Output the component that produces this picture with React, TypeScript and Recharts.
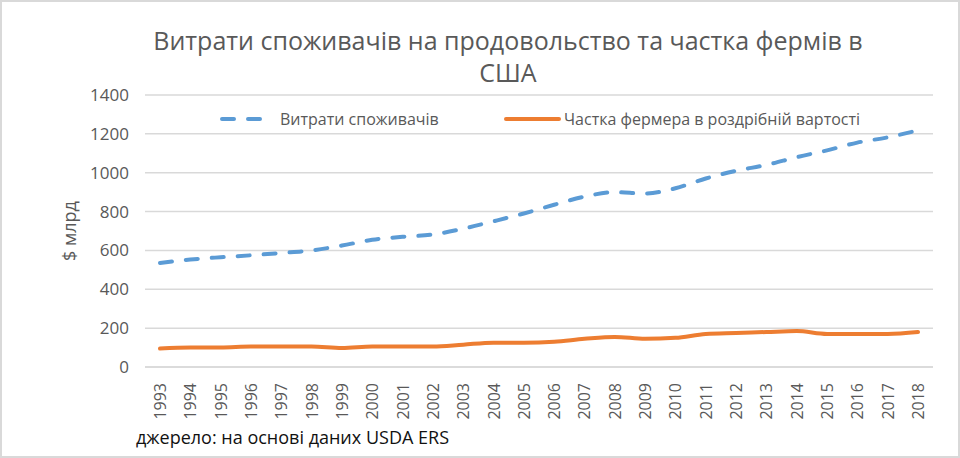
import React from 'react';
import { LineChart, Line, XAxis, YAxis, CartesianGrid } from 'recharts';

const years = [
    '1993', '1994', '1995', '1996', '1997', '1998', '1999', '2000', '2001', '2002', '2003', '2004', '2005',
    '2006', '2007', '2008', '2009', '2010', '2011', '2012', '2013', '2014', '2015', '2016', '2017', '2018',
];
const consumerSpending = [
    535, 553, 565, 575, 587, 600, 625, 655, 670, 682, 712, 750, 790,
    835, 877, 900, 893, 920, 970, 1010, 1040, 1080, 1115, 1155, 1182, 1218,
];
const farmShare = [
    95, 100, 100, 105, 105, 105, 98, 105, 105, 105, 115, 125, 125,
    130, 145, 155, 145, 150, 170, 175, 180, 185, 170, 170, 170, 180,
];
const yTicks = [0, 200, 400, 600, 800, 1000, 1200, 1400];

const SERIES_SPEND = 'Витрати споживачів';
const SERIES_FARM = 'Частка фермера в роздрібній вартості';

const chartData = years.map((year, i) => ({
    year,
    spend: consumerSpending[i],
    farm: farmShare[i],
}));

const FONT = '"Open Sans", "Noto Sans", sans-serif';
const TEXT = '#595959';

function YearTick(props: any) {
    const { x, y, payload } = props;
    return (
        <text
            x={x}
            y={y}
            transform={`rotate(-90, ${x}, ${y})`}
            dy={6}
            dx={-8}
            textAnchor="end"
            fill={TEXT}
            fontSize={16}
            fontFamily={FONT}
        >
            {payload.value}
        </text>
    );
}

// legend sits inside the plot, between the top two gridlines
function LegendOverlay() {
    return (
        <svg width={960} height={24} style={{ position: 'absolute', left: 0, top: 105 }}>
            <line x1={220} y1={12} x2={272} y2={12} stroke="#5B9BD5" strokeWidth={4} strokeDasharray="12 14" strokeLinecap="round" />
            <text x={278} y={18} fill={TEXT} fontSize={16} fontFamily={FONT}>{SERIES_SPEND}</text>
            <line x1={504} y1={12} x2={557} y2={12} stroke="#ED7D31" strokeWidth={4} strokeLinecap="round" />
            <text x={562} y={18} fill={TEXT} fontSize={16} fontFamily={FONT}>{SERIES_FARM}</text>
        </svg>
    );
}

export default function App() {
    return (
        <div
            style={{
                position: 'absolute',
                left: 0,
                top: 0,
                width: 960,
                height: 458,
                background: '#fff',
                boxSizing: 'border-box',
                border: '2px solid #D9D9D9',
                fontFamily: FONT,
            }}
        >
            <div style={{ position: 'absolute', left: 0, top: 0, width: 960, textAlign: 'center', color: TEXT, fontSize: 25, lineHeight: '32px', paddingTop: 22, paddingLeft: 52, boxSizing: 'border-box' }}>
                Витрати споживачів на продовольство та частка фермів в
                <br />
                США
            </div>
            <div style={{ position: 'absolute', left: -2, top: -2 }}>
                <LineChart width={960} height={458} data={chartData} margin={{ top: 95, right: 27, bottom: 0, left: 0 }}>
                    <CartesianGrid vertical={false} stroke="#D9D9D9" strokeWidth={1.5} />
                    <XAxis
                        dataKey="year"
                        axisLine={{ stroke: '#D9D9D9', strokeWidth: 1.5 }}
                        tickLine={false}
                        interval={0}
                        height={91}
                        padding={{ left: 15, right: 15 }}
                        tick={<YearTick />}
                    />
                    <YAxis
                        width={145}
                        domain={[0, 1400]}
                        ticks={yTicks}
                        axisLine={false}
                        tickLine={false}
                        tickMargin={10}
                        tick={{ fill: TEXT, fontSize: 17, fontFamily: FONT }}
                        label={{ value: '$ млрд', angle: -90, position: 'insideLeft', offset: 70, fill: TEXT, fontSize: 18, fontFamily: FONT, style: { textAnchor: 'middle' } }}
                    />
                    <Line
                        type="monotone"
                        dataKey="spend"
                        name={SERIES_SPEND}
                        stroke="#5B9BD5"
                        strokeWidth={4}
                        strokeDasharray="12 14"
                        strokeLinecap="round"
                        dot={false}
                        isAnimationActive={false}
                    />
                    <Line
                        type="monotone"
                        dataKey="farm"
                        name={SERIES_FARM}
                        stroke="#ED7D31"
                        strokeWidth={4}
                        strokeLinecap="round"
                        dot={false}
                        isAnimationActive={false}
                    />
                </LineChart>
            </div>
            <LegendOverlay />
            <div style={{ position: 'absolute', left: 134, top: 423, fontSize: 18, color: '#111', fontFamily: FONT }}>
                джерело: на основі даних USDA ERS
            </div>
        </div>
    );
}
